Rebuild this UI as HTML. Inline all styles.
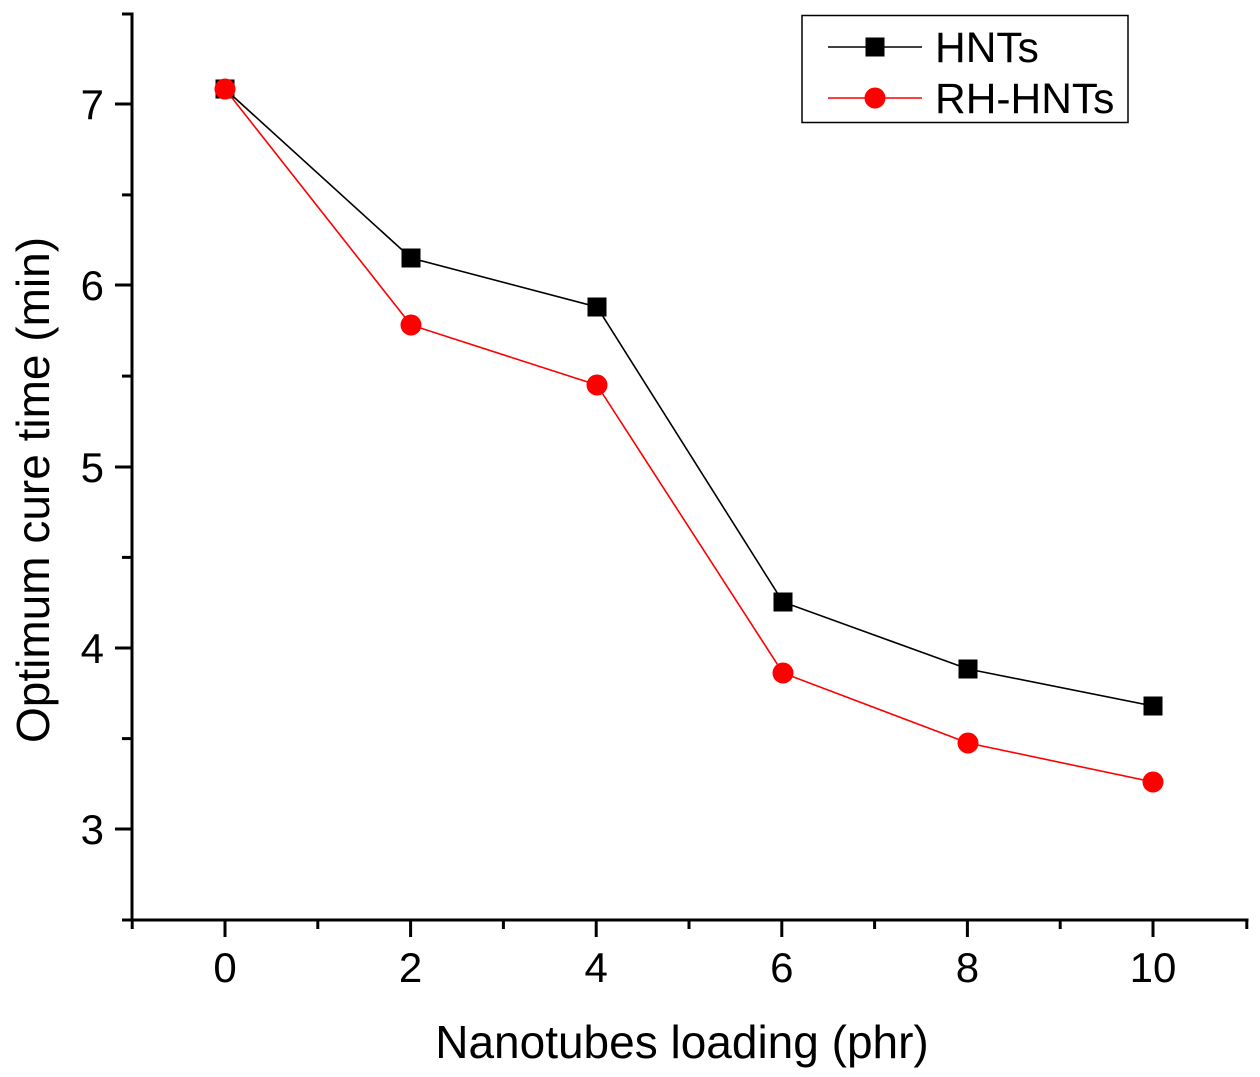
<!DOCTYPE html>
<html>
<head>
<meta charset="utf-8">
<style>
  html,body{margin:0;padding:0;background:#fff;}
  svg{display:block;}
  text{font-family:"Liberation Sans", Arial, sans-serif;fill:#000;}
</style>
</head>
<body>
<svg width="1260" height="1077" viewBox="0 0 1260 1077" xmlns="http://www.w3.org/2000/svg">
  <rect width="1260" height="1077" fill="#fff"/>
  <!-- axes -->
  <g stroke="#000" stroke-width="3" fill="none" stroke-linecap="butt">
    <line x1="132" y1="12.5" x2="132" y2="921.5"/>
    <line x1="122" y1="920" x2="1248.5" y2="920"/>
    <!-- y major ticks -->
    <line x1="115" y1="829" x2="132" y2="829"/>
    <line x1="115" y1="648" x2="132" y2="648"/>
    <line x1="115" y1="467" x2="132" y2="467"/>
    <line x1="115" y1="285" x2="132" y2="285"/>
    <line x1="115" y1="104" x2="132" y2="104"/>
    <!-- y minor ticks -->
    <line x1="122" y1="738.6" x2="132" y2="738.6"/>
    <line x1="122" y1="557.4" x2="132" y2="557.4"/>
    <line x1="122" y1="376.1" x2="132" y2="376.1"/>
    <line x1="122" y1="194.9" x2="132" y2="194.9"/>
    <line x1="122" y1="14" x2="132" y2="14"/>
    <!-- x major ticks -->
    <line x1="225" y1="920" x2="225" y2="937"/>
    <line x1="410.6" y1="920" x2="410.6" y2="937"/>
    <line x1="596.2" y1="920" x2="596.2" y2="937"/>
    <line x1="781.8" y1="920" x2="781.8" y2="937"/>
    <line x1="967.4" y1="920" x2="967.4" y2="937"/>
    <line x1="1153" y1="920" x2="1153" y2="937"/>
    <!-- x minor ticks -->
    <line x1="132.2" y1="920" x2="132.2" y2="929"/>
    <line x1="317.8" y1="920" x2="317.8" y2="929"/>
    <line x1="503.4" y1="920" x2="503.4" y2="929"/>
    <line x1="689" y1="920" x2="689" y2="929"/>
    <line x1="874.6" y1="920" x2="874.6" y2="929"/>
    <line x1="1060.2" y1="920" x2="1060.2" y2="929"/>
    <line x1="1246.8" y1="920" x2="1246.8" y2="929"/>
  </g>
  <!-- y tick labels -->
  <g font-size="42" text-anchor="end">
    <text x="104" y="844">3</text>
    <text x="104" y="663">4</text>
    <text x="104" y="482">5</text>
    <text x="104" y="300">6</text>
    <text x="104" y="119">7</text>
  </g>
  <!-- x tick labels -->
  <g font-size="42" text-anchor="middle">
    <text x="225" y="982">0</text>
    <text x="410.6" y="982">2</text>
    <text x="596.2" y="982">4</text>
    <text x="781.8" y="982">6</text>
    <text x="967.4" y="982">8</text>
    <text x="1153" y="982">10</text>
  </g>
  <!-- axis titles -->
  <text x="682" y="1058" font-size="46" text-anchor="middle">Nanotubes loading (phr)</text>
  <text transform="translate(49,490) rotate(-90)" font-size="46" text-anchor="middle">Optimum cure time (min)</text>

  <!-- HNTs series -->
  <polyline fill="none" stroke="#000" stroke-width="1.6" points="225,89 411,258 597,307 783,602 968,669 1153,706"/>
  <g fill="#000">
    <rect x="215.5" y="79.5" width="19" height="19"/>
    <rect x="401.5" y="248.5" width="19" height="19"/>
    <rect x="587.5" y="297.5" width="19" height="19"/>
    <rect x="773.5" y="592.5" width="19" height="19"/>
    <rect x="958.5" y="659.5" width="19" height="19"/>
    <rect x="1143.5" y="696.5" width="19" height="19"/>
  </g>
  <!-- RH-HNTs series -->
  <polyline fill="none" stroke="#f00" stroke-width="1.6" points="225,89 411,325 597,385 783,673 968,743 1153,782"/>
  <g fill="#f00">
    <circle cx="225" cy="89" r="10.5"/>
    <circle cx="411" cy="325" r="10.5"/>
    <circle cx="597" cy="385" r="10.5"/>
    <circle cx="783" cy="673" r="10.5"/>
    <circle cx="968" cy="743" r="10.5"/>
    <circle cx="1153" cy="782" r="10.5"/>
  </g>

  <!-- legend -->
  <rect x="802" y="15.5" width="326" height="107" fill="#fff" stroke="#000" stroke-width="1.5"/>
  <line x1="828" y1="47" x2="922" y2="47" stroke="#000" stroke-width="1.6"/>
  <rect x="865.5" y="37.5" width="19" height="19" fill="#000"/>
  <line x1="828" y1="98" x2="922" y2="98" stroke="#f00" stroke-width="1.6"/>
  <circle cx="875" cy="98" r="10.5" fill="#f00"/>
  <text x="935" y="62" font-size="42.5">HNTs</text>
  <text x="935" y="113" font-size="42.5">RH-HNTs</text>
</svg>
</body>
</html>
